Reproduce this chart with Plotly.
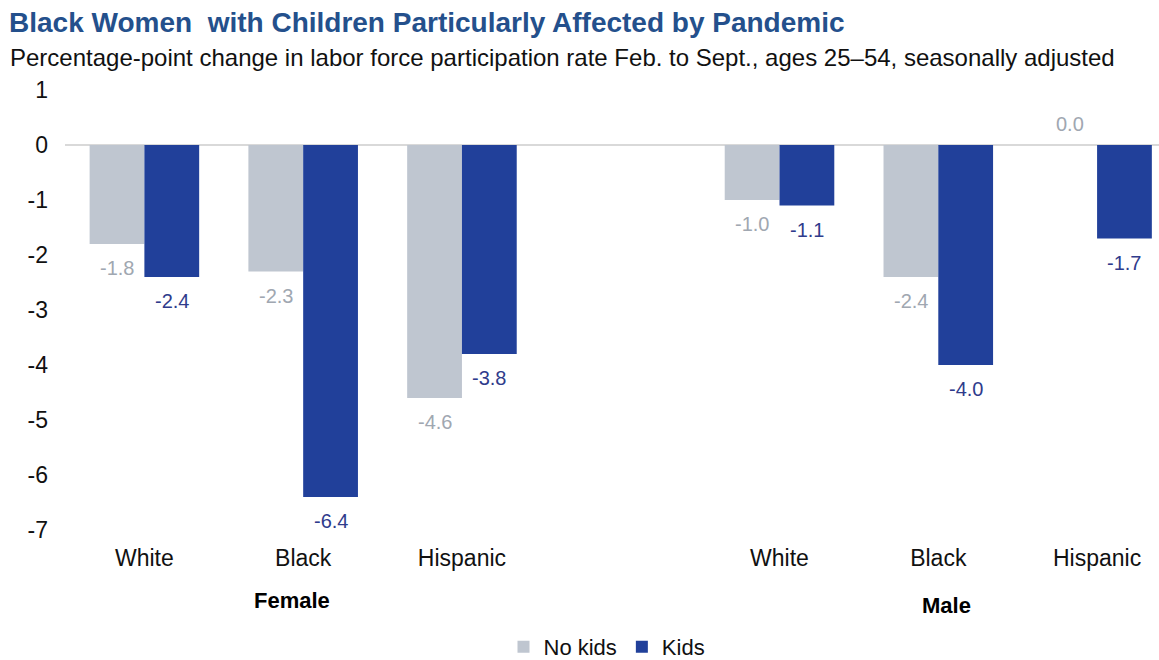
import plotly.graph_objects as go

# Data: percentage-point change in prime-age LFPR, Feb. to Sept.
groups = ["Female", "Female", "Female", "Male", "Male", "Male"]
races = ["White", "Black", "Hispanic", "White", "Black", "Hispanic"]
no_kids = [-1.8, -2.3, -4.6, -1.0, -2.4, 0.0]
kids = [-2.4, -6.4, -3.8, -1.1, -4.0, -1.7]
y_ticks = [1, 0, -1, -2, -3, -4, -5, -6, -7]
y_tick_text = ["1", "0", "-1", "-2", "-3", "-4", "-5", "-6", "-7"]

# Slot positions: one empty slot separates the two groups
xpos = [0, 1, 2, 4, 5, 6]

GRAY = "#bfc6d0"
BLUE = "#21409a"
GRAY_TXT = "#a0a7b1"
BLUE_TXT = "#2f3b8c"
FONT = "Liberation Sans, Arial, sans-serif"

W, H = 1159, 660
ML, MR, MT, MB = 65, 0, 90, 130
PW, PH = W - ML - MR, H - MT - MB

fig = go.Figure()
fig.add_trace(go.Bar(x=xpos, y=no_kids, name="No kids", marker_color=GRAY,
                     marker_line_width=0))
fig.add_trace(go.Bar(x=xpos, y=kids, name="Kids", marker_color=BLUE,
                     marker_line_width=0))

bar_w = 0.345
annotations = []
for xp, nk, k in zip(xpos, no_kids, kids):
    for val, dx, col in ((nk, -bar_w / 2, GRAY_TXT), (k, bar_w / 2, BLUE_TXT)):
        annotations.append(dict(
            x=xp + dx, y=val, xref="x", yref="y", text=f"{val:.1f}",
            showarrow=False, yanchor="middle",
            font=dict(size=20, color=col, family=FONT),
            yshift=-24 if val < 0 else 21,
        ))

# Group labels under the category ticks
annotations.append(dict(x=0.93, y=(H - MB - 600) / PH, xref="x", yref="paper",
                        yanchor="middle", text="<b>Female</b>", showarrow=False,
                        font=dict(size=22, color="#000000", family=FONT)))
annotations.append(dict(x=5.05, y=(H - MB - 605) / PH, xref="x", yref="paper",
                        yanchor="middle", text="<b>Male</b>", showarrow=False,
                        font=dict(size=22, color="#000000", family=FONT)))

# Subtitle
annotations.append(dict(
    x=(8 - ML) / PW, y=(H - MB - 58) / PH, xref="paper", yref="paper",
    xanchor="left", yanchor="middle", showarrow=False,
    text="Percentage-point change in labor force participation rate Feb. to Sept., ages 25–54, seasonally adjusted",
    font=dict(size=24, color="#111111", family=FONT),
))

fig.update_layout(
    width=W, height=H,
    margin=dict(l=ML, r=MR, t=MT, b=MB, autoexpand=False),
    paper_bgcolor="white", plot_bgcolor="white",
    barmode="group", bargap=0.31, bargroupgap=0,
    title=dict(
        text="<b>Black Women  with Children Particularly Affected by Pandemic</b>",
        x=9 / W, xanchor="left", xref="container",
        y=1 - 22 / H, yanchor="middle", yref="container",
        font=dict(size=28, color="#24508c", family=FONT),
    ),
    font=dict(family=FONT, color="#000000"),
    showlegend=True,
    legend=dict(orientation="h", x=(607 - ML) / PW, xanchor="center",
                y=(H - MB - 647) / PH, yanchor="middle",
                font=dict(size=22, color="#111111", family=FONT),
                tracegroupgap=0, borderwidth=0),
    annotations=annotations,
)

fig.update_xaxes(
    range=[-0.5, 6.39], tickmode="array", tickvals=xpos, ticktext=races,
    showgrid=False, zeroline=False, showline=False, ticks="",
    tickfont=dict(size=23, color="#111111", family=FONT), ticklabelstandoff=12,
)
fig.update_yaxes(
    range=[-7, 1], tickmode="array", tickvals=y_ticks, ticktext=y_tick_text,
    showgrid=False, zeroline=True, zerolinecolor="#d9d9d9", zerolinewidth=2,
    showline=False, ticks="",
    tickfont=dict(size=23, color="#111111", family=FONT), ticklabelstandoff=16,
)

fig.write_html("out.html")
